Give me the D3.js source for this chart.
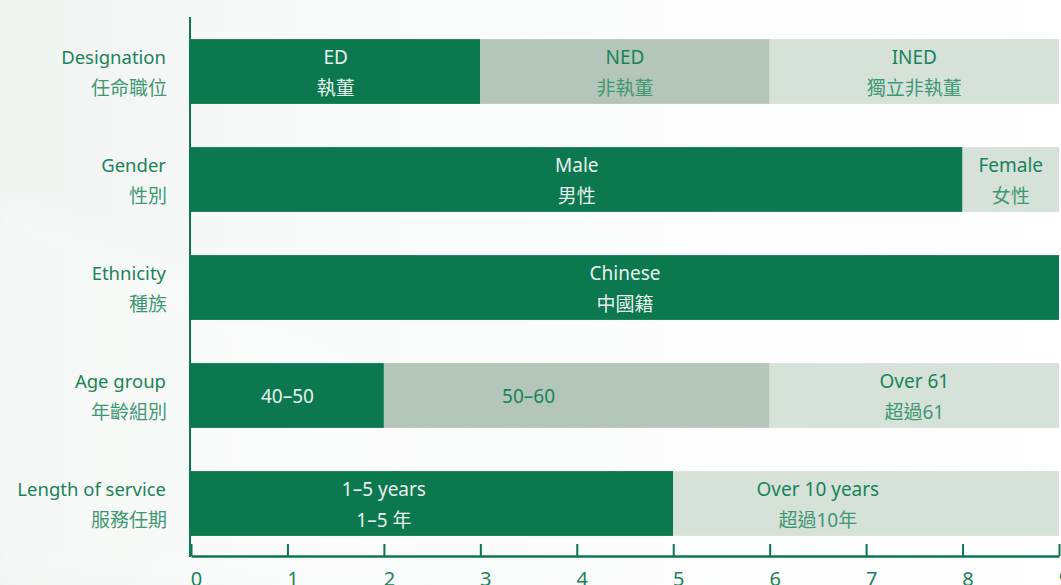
<!DOCTYPE html>
<html>
<head>
<meta charset="utf-8">
<script src="https://cdn.jsdelivr.net/npm/d3@7/dist/d3.min.js"></script>
<style>
  html, body { margin: 0; padding: 0; background: #fff; }
  svg { display: block; font-family: "Noto Sans", "Noto Sans CJK TC", sans-serif; }
</style>
</head>
<body>
<div id="chart"></div>
<script>
// categories (English / Chinese)
const categories = ["Designation", "Gender", "Ethnicity", "Age group", "Length of service"];
const categoriesZh = ["任命職位", "性別", "種族", "年齡組別", "服務任期"];

// segments per category
const segNames = [
  ["ED", "NED", "INED"],
  ["Male", "Female"],
  ["Chinese"],
  ["40–50", "50–60", "Over 61"],
  ["1–5 years", "Over 10 years"]
];
const segNamesZh = [
  ["執董", "非執董", "獨立非執董"],
  ["男性", "女性"],
  ["中國籍"],
  ["", "", "超過61"],
  ["1–5 年", "超過10年"]
];
const segValues = [
  [3, 3, 3],
  [8, 1],
  [9],
  [2, 4, 3],
  [5, 4]
];
// shade index: 0 dark, 1 mid, 2 light
const segShade = [
  [0, 1, 2],
  [0, 2],
  [0],
  [0, 1, 2],
  [0, 2]
];
// where the label sits on the value axis
const labelAt = [
  [1.5, 4.5, 7.5],
  [4, 8.5],
  [4.5],
  [1, 3.5, 7.5],
  [2, 6.5]
];
const xTicks = [0, 1, 2, 3, 4, 5, 6, 7, 8, 9];

const W = 1061, H = 585;
const svg = d3.select("#chart").append("svg")
  .attr("width", W).attr("height", H);

// soft background swoosh
const defs = svg.append("defs");
const grad = defs.append("linearGradient").attr("id", "bg")
  .attr("x1", "0").attr("y1", "0").attr("x2", "1").attr("y2", "0");
grad.append("stop").attr("offset", "0").attr("stop-color", "#f0f4f1");
grad.append("stop").attr("offset", "0.3").attr("stop-color", "#f8faf9");
grad.append("stop").attr("offset", "1").attr("stop-color", "#ffffff");
svg.append("rect").attr("width", W).attr("height", H).attr("fill", "url(#bg)");
defs.append("filter").attr("id", "blur")
  .append("feGaussianBlur").attr("stdDeviation", 12);
svg.append("path")
  .attr("d", "M0,190 C120,240 260,300 420,420 L420,585 L0,585 Z")
  .attr("fill", "#ffffff").attr("opacity", 0.35)
  .attr("filter", "url(#blur)");

const x = d3.scaleLinear().domain([0, 9]).range([191, 1059]);
const y = d3.scaleBand().domain(categories).range([17.5, 557.5])
  .paddingInner(0.4).paddingOuter(0.2);

const fills = ["#0b7850", "#b3c6b9", "#d6e1da"];
const textFills = ["#e8f1eb", "#1a8358", "#1a8358"];
const zhFills = ["#e8f1eb", "#3f9873", "#3f9873"];

const rows = svg.append("g");
categories.forEach((cat, i) => {
  let acc = 0;
  const cy = y(cat) + y.bandwidth() / 2;
  segValues[i].forEach((v, j) => {
    const x0 = acc, x1 = acc + v;
    acc = x1;
    const shade = segShade[i][j];
    rows.append("rect")
      .attr("x", x(x0)).attr("y", y(cat))
      .attr("width", x(x1) - x(x0)).attr("height", y.bandwidth())
      .attr("fill", fills[shade]);
    const zh = segNamesZh[i][j];
    const lx = x(labelAt[i][j]);
    rows.append("text")
      .attr("x", lx).attr("y", zh ? cy - 8 : cy + 7)
      .attr("text-anchor", "middle")
      .attr("font-size", 19)
      .attr("fill", textFills[shade])
      .text(segNames[i][j]);
    if (zh) {
      rows.append("text")
        .attr("x", lx).attr("y", cy + 23)
        .attr("text-anchor", "middle")
        .attr("font-size", 19)
        .attr("fill", zhFills[shade])
        .text(zh);
    }
  });

  // category labels
  svg.append("text")
    .attr("x", 166).attr("y", cy - 8)
    .attr("text-anchor", "end")
    .attr("font-size", 18.5)
    .attr("fill", "#1a8358")
    .text(cat);
  svg.append("text")
    .attr("x", 167).attr("y", cy + 23)
    .attr("text-anchor", "end")
    .attr("font-size", 19)
    .attr("fill", "#3f9873")
    .text(categoriesZh[i]);
});

// axes
const axisColor = "#0b7850";
svg.append("line")
  .attr("x1", 190).attr("x2", 190).attr("y1", 17).attr("y2", 557)
  .attr("stroke", axisColor).attr("stroke-width", 2);

const xAxis = svg.append("g")
  .attr("transform", "translate(0,556)")
  .call(d3.axisBottom(x).tickValues(xTicks).tickSizeInner(-12).tickSizeOuter(0).tickPadding(16));
xAxis.select(".domain").attr("stroke", axisColor).attr("stroke-width", 2.5);
xAxis.selectAll(".tick line").attr("stroke", axisColor).attr("stroke-width", 2);
xAxis.selectAll(".tick text")
  .attr("fill", "#1a8358")
  .attr("font-size", 20)
  .attr("font-family", "Noto Sans, sans-serif")
  .attr("dx", 5);
</script>
</body>
</html>
